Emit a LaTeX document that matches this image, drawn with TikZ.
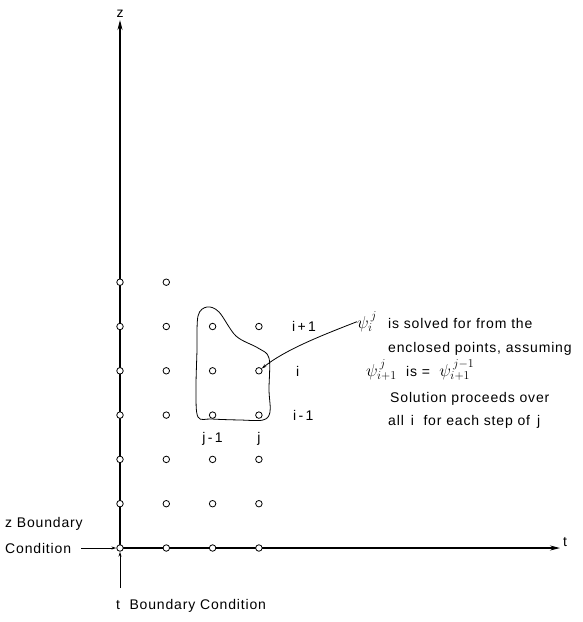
\documentclass[tikz,border=0pt]{standalone}
\usepackage{fontspec}
\setmainfont{Liberation Sans}[LetterSpace=6]
\usetikzlibrary{arrows.meta}

\newcommand{\psisize}{\fontsize{17}{18}\selectfont}
\newcommand{\txtsize}{\fontsize{14}{16}\selectfont}

\tikzset{
  gridpt/.style={circle,draw,fill=white,inner sep=0pt,minimum size=6.5pt,line width=0.8pt},
  lbl/.style={inner sep=0pt,anchor=base west,font=\txtsize},
  axis/.style={line width=1.1pt,-{Stealth[length=10pt,width=5pt]}}
}

\begin{document}
\begin{tikzpicture}[x=1pt,y=-1pt]
  \useasboundingbox (0,0) rectangle (583,622);
  % axes
  \coordinate (o) at (120,548);
  \coordinate (ztop) at (120,20);
  \coordinate (tend) at (560,548);
  \draw[axis] (o) -- (ztop);
  \draw[axis] (o) -- (tend);
  \node[lbl,anchor=south] (zlab) at (120,18) {z};
  \node[lbl,anchor=west] (tlab) at (563,542) {t};

  % grid of points
  \foreach \c in {0,1} {
    \foreach \r in {0,...,6}
      \node[gridpt] (p-\c-\r) at ({120+46.3*\c},{548-44.3*\r}) {};
  }
  \foreach \c in {2,3} {
    \foreach \r in {0,...,5}
      \node[gridpt] (p-\c-\r) at ({120+46.3*\c},{548-44.3*\r}) {};
  }

  % row and column labels
  \node[lbl] (rowup) at (292,331) {i\,+\,1};
  \node[lbl] (rowmid) at (296,376) {i};
  \node[lbl] (rowdn) at (293,420) {i\,-\,1};
  \node[lbl,anchor=base] (colprev) at (p-2-3 |- 0,442) {j\,-\,1};
  \node[lbl,anchor=base] (colcur) at (p-3-3 |- 0,442) {j};

  % enclosed points
  \draw[line width=0.8pt] plot[smooth cycle,tension=0.55] coordinates {
    (198,316) (207,307) (219,312) (236,336) (258,348) (269,358)
    (269,390) (270,412) (263,420) (240,420) (212,419) (198,417)
    (196,390) (197,350)};

  % explanation
  \node[lbl] (psi) at (357,328) {\psisize$\psi^{\,j}_{i}$};
  \node[lbl] (txta) at (388,328) {is solved for from the};
  \node[lbl] (txtb) at (388,352) {enclosed points, assuming};
  \node[lbl] (txtc) at (366,376) {{\psisize$\psi^{\,j}_{i+1}$}\ \ is = \ {\psisize$\psi^{\,j-1}_{i+1}$}};
  \node[lbl] (txtd) at (390,402) {Solution proceeds over};
  \node[lbl] (txte) at (388,425) {all\, i \ for each step of\, j};
  \draw[line width=0.8pt,-{Stealth[length=5pt,width=3pt]}] (psi.west) .. controls (320,336) and (285,350) .. (p-3-4);

  % boundary conditions
  \node[lbl] (zbca) at (5,527) {z Boundary};
  \node[lbl] (zbcb) at (5,553) {Condition};
  \draw[line width=0.8pt,-{Stealth[length=5pt,width=3pt]}] ([xshift=10pt]zbcb.east |- o) -- (p-0-0.west);
  \node[lbl] (tbc) at (116,609) {t\ \ Boundary Condition};
  \coordinate (tarr) at (120,588);
  \draw[line width=0.8pt,-{Stealth[length=5pt,width=3pt]}] (tarr) -- (p-0-0.south);
\end{tikzpicture}
\end{document}
